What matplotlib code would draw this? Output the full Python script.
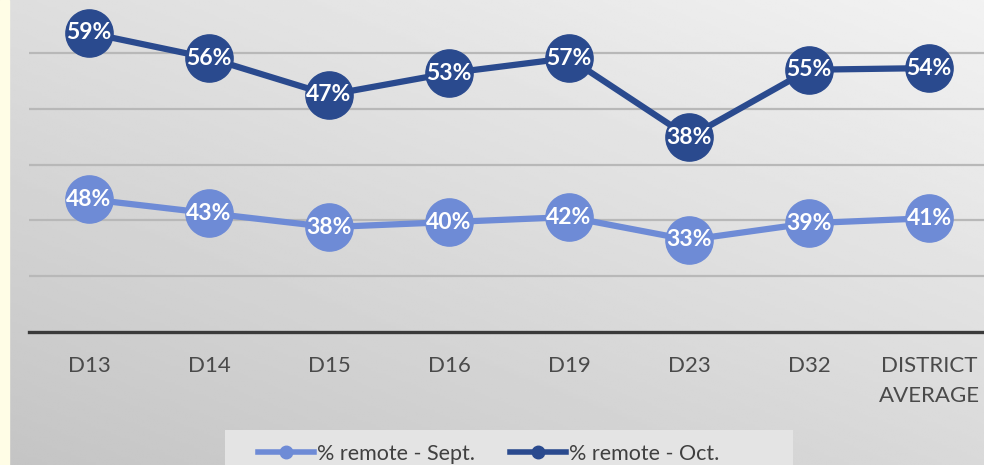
import matplotlib
matplotlib.use('Agg')
from matplotlib import pyplot as plt
from matplotlib.lines import Line2D
from matplotlib.patches import Rectangle
import numpy as np

districts = ['D13', 'D14', 'D15', 'D16', 'D19', 'D23', 'D32', 'DISTRICT\nAVERAGE']
# label values shown on the chart
sept_lbl = [48, 43, 38, 40, 42, 33, 39, 41]
oct_lbl = [59, 56, 47, 53, 57, 38, 55, 54]
# marker heights (gridlines every 10)
sept_pos = [23.8, 21.3, 18.8, 19.7, 20.6, 16.5, 19.5, 20.4]
oct_pos = [53.6, 49.1, 42.5, 46.4, 49.1, 34.9, 47.0, 47.3]

plt.rcParams['font.family'] = ['Lato', 'DejaVu Sans']

light = '#6E8BD6'
dark = '#2A4A8E'

fig = plt.figure(figsize=(9.84, 4.65), dpi=100)

# background gradient, lighter towards the top right
bg = fig.add_axes([0, 0, 1, 1], zorder=-10)
yy, xx = np.mgrid[0:1:200j, 0:1:200j]
g = 0.77 + 0.18 * (0.55 * yy + 0.45 * xx)
bg.imshow(g, cmap='gray', vmin=0, vmax=1, origin='lower', aspect='auto',
          extent=[0, 1, 0, 1])
bg.axvspan(0, 9 / 984, color='#FFFDE6')
# legend panel
bg.add_patch(Rectangle((225 / 984, 0), (793 - 225) / 984, 35 / 465,
                       facecolor='#E4E4E4', edgecolor='none'))
bg.set_xlim(0, 1)
bg.set_ylim(0, 1)
bg.axis('off')

ax = fig.add_axes([29 / 984, 133 / 465, 960 / 984, 332 / 465])
ax.patch.set_alpha(0)
x = np.arange(len(districts))

ax.plot(x, sept_pos, color=light, lw=4.5, marker='o', ms=34, zorder=3)
ax.plot(x, oct_pos, color=dark, lw=4.5, marker='o', ms=34, zorder=3)
for xi, p, v in zip(x, sept_pos, sept_lbl):
    ax.text(xi, p, f'{v}%', color='white', fontsize=16.5, fontweight='bold',
            ha='center', va='center', zorder=4)
for xi, p, v in zip(x, oct_pos, oct_lbl):
    ax.text(xi, p, f'{v}%', color='white', fontsize=16.5, fontweight='bold',
            ha='center', va='center', zorder=4)

ax.set_xlim(-0.5, len(districts) - 0.5)
ax.set_ylim(0, 59.5)
ax.set_yticks([10, 20, 30, 40, 50])
ax.yaxis.grid(True, color='#B8B8B8', lw=1.6)
ax.set_axisbelow(True)
ax.tick_params(axis='y', left=False, labelleft=False)
for s in ['top', 'right', 'left']:
    ax.spines[s].set_visible(False)
ax.spines['bottom'].set_color('#3A3A3A')
ax.spines['bottom'].set_linewidth(2.4)
ax.set_xticks(x)
ax.set_xticklabels(districts, fontsize=16, color='#4A4A4A', linespacing=1.65)
ax.tick_params(axis='x', length=0, pad=17)

handles = [Line2D([], [], color=light, lw=4, marker='o', ms=9),
           Line2D([], [], color=dark, lw=4, marker='o', ms=9)]
leg = fig.legend(handles, ['% remote - Sept.', '% remote - Oct.'],
                 loc='center left', bbox_to_anchor=(258 / 984, 11 / 465),
                 ncol=2, fontsize=15.5, frameon=False,
                 handlelength=2.6, handletextpad=0.15, columnspacing=1.6,
                 borderpad=0, borderaxespad=0)
for t in leg.get_texts():
    t.set_color('#404040')

fig.savefig('out.png', dpi=100)
